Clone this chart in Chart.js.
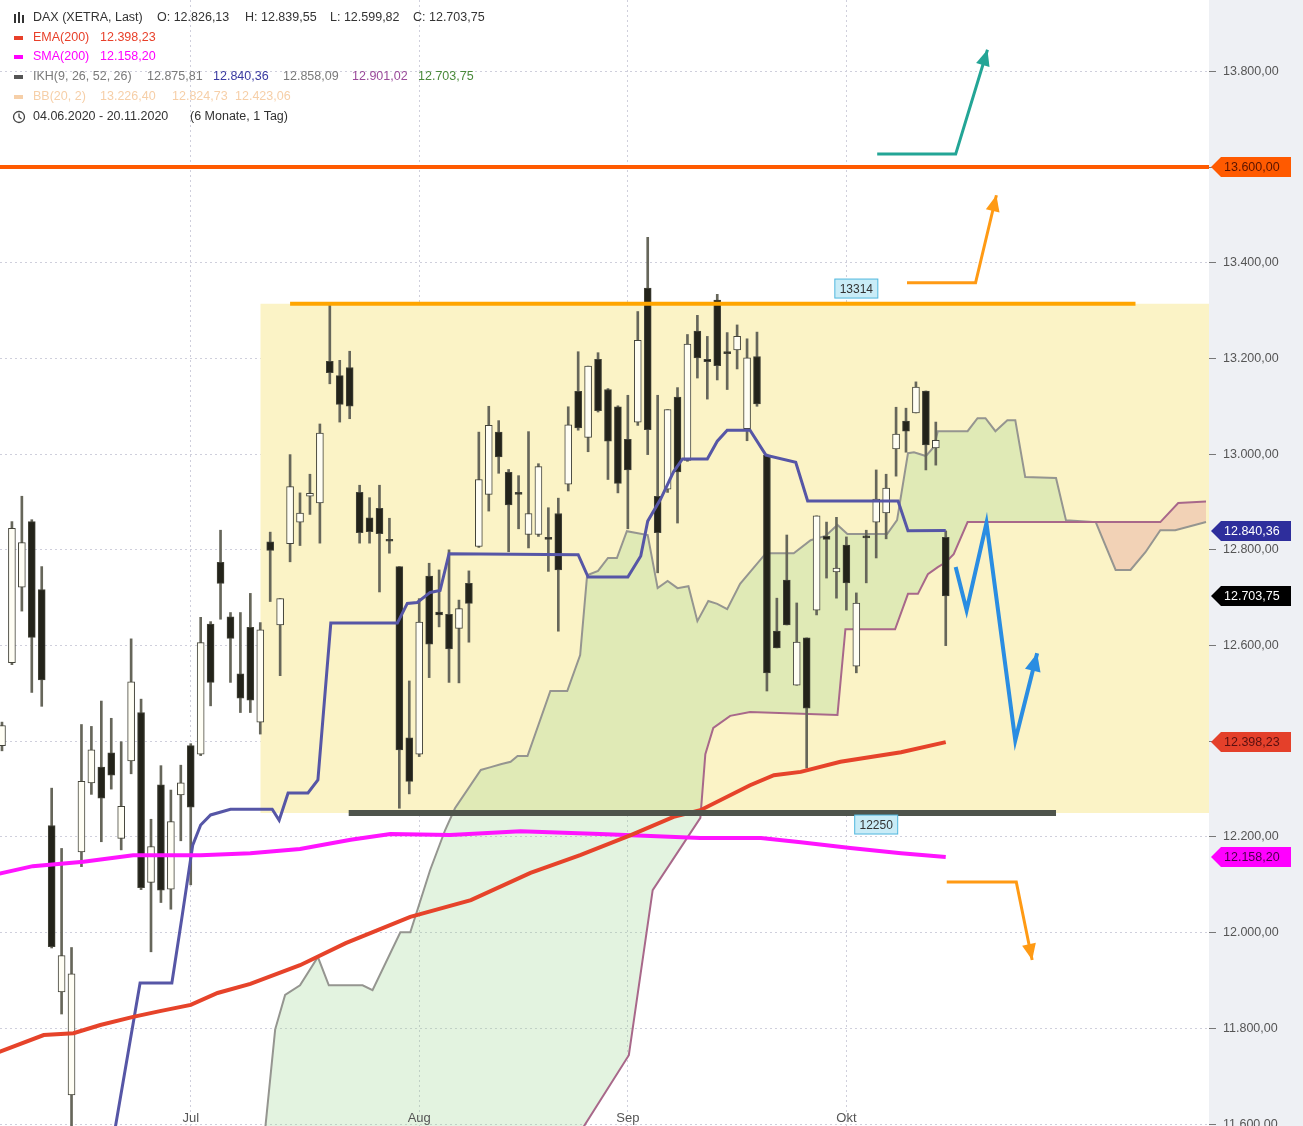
<!DOCTYPE html>
<html>
<head>
<meta charset="utf-8">
<script src="https://cdn.jsdelivr.net/npm/chart.js@4.4.1/dist/chart.umd.min.js"></script>
<style>
  html, body { margin: 0; padding: 0; background: #fff; }
  #wrap { width: 1303px; height: 1126px; }
</style>
</head>
<body>
<div id="wrap"><canvas id="myChart" width="1303" height="1126"></canvas></div>
<script>
// candles, bar index -1 .. 94 (daily, XETRA)
const firstBar = -1
const opens  = [12391,12564,12722,12859,12717,12224,11876,11661,12169,12313,12346,12376,12197,12359,12460,12105,12309,12091,12288,12391,
  12373,12645,12774,12660,12541,12638,12440,12817,12643,12813,12858,12912,12898,13194,13164,13181,12920,12867,12887,12822,
  12765,12407,12373,12745,12670,12665,12636,12730,12807,12916,13046,12962,12920,12832,12832,12826,12876,12937,13131,13035,
  13198,13135,13099,13031,13067,13347,12912,12927,13119,12987,13257,13198,13322,13214,13218,13053,13204,12998,12630,12737,
  12517,12616,12674,12828,12754,12810,12557,12829,12858,12877,13011,13069,13086,13132,13013,12826.13]
const highs  = [12440,12859,12912,12863,12765,12302,12176,11969,12435,12431,12484,12448,12399,12614,12488,12237,12349,12298,12350,12395,
  12659,12650,12841,12669,12669,12709,12648,12837,12698,12999,12919,12958,13063,13312,13196,13215,12935,12909,12935,12866,
  12765,12526,12698,12772,12758,12800,12695,12756,13046,13100,13070,12968,12955,13047,12980,12888,12908,13099,13214,13184,
  13212,13137,13101,13123,13298,13453,13123,13093,13139,13250,13290,13246,13334,13254,13270,13241,13255,13000,12699,12831,
  12689,12616,12871,12858,12868,12827,12710,12841,12967,12958,13098,13096,13151,13132,13067,12839.55]
const lows   = [12380,12560,12672,12502,12473,11968,11830,11540,12138,12289,12190,12300,12173,12332,12090,11960,12063,12049,12192,12100,
  12370,12474,12655,12523,12460,12460,12415,12692,12537,12775,12809,12874,12814,13147,13067,13074,12814,12814,12712,12793,
  12260,12290,12368,12533,12639,12523,12522,12607,12805,12881,12960,12796,12844,12804,12828,12755,12630,12923,13050,13005,
  13088,12947,12919,12844,13060,12999,12752,12920,12856,12985,13159,13115,13155,13135,13178,13028,13100,12505,12595,12643,
  12517,12344,12664,12741,12699,12674,12543,12731,12783,12823,12954,13004,13086,12967,12977,12599.82]
const closes = [12433,12845,12815,12617,12528,11971,11952,11914,12316,12382,12281,12329,12264,12524,12094,12180,12089,12232,12313,12262,
  12606,12523,12730,12615,12490,12486,12633,12799,12698,12932,12877,12918,13044,13170,13104,13100,12836,12838,12834,12818,
  12382,12316,12649,12603,12664,12593,12677,12688,12947,13060,12994,12894,12916,12876,12974,12822,12758,13061,13055,13184,
  13091,13027,12939,12967,13238,13051,12836,13093,12963,13230,13201,13193,13185,13210,13246,13201,13105,12543,12595,12643,
  12607,12469,12871,12822,12762,12731,12689,12825,12906,12929,13042,13048,13140,13019,13029,12703.75]

// Ichimoku (IKH 9,26,52,26) vertices: bar index / value
const kijunX = [10.1,12.9,16.1,17.1,18.2,19.0,20.0,22.0,26.2,26.9,27.8,29.8,30.8,32.1,38.8,39.8,40.8,42.1,43.1,44.0,57.0,58.0,62.0,63.3,
  64.0,65.3,66.6,67.5,70.0,71.0,72.0,74.3,75.9,78.9,80.1,89.2,90.2,94]
const kijunY = [11556,11895,11895,12030,12183,12225,12246,12258,12258,12235,12292,12292,12319,12647,12647,12688,12690,12711,12715,12792,12790,12743,12743,12787,
  12860,12906,12963,12990,12990,13027,13050,13050,12998,12983,12902,12902,12840,12840.36]
const spanAX = [25.3,26.5,27.5,29.0,30.8,31.9,35.3,36.3,39.1,40.1,42.1,43.6,44.6,47.2,48.2,49.2,50.2,50.9,51.9,54.2,55.9,57.2,57.9,59.0,
  60.0,60.9,61.9,64.0,65.0,66.0,67.0,68.1,69.0,70.1,71.0,72.0,73.3,75.9,78.7,80.4,81.9,83.1,84.1,88.1,89.1,90.2,90.8,92.0,92.8,93.2,
  96.2,97.2,98.0,99.0,100.2,101.0,102.0,105.1,106.1,109.1,111.1,112.6,114.1,115.6,117.1,120.2]
const spanAY = [11550,11798,11870,11890,11949,11890,11890,11880,12001,12001,12131,12214,12260,12340,12346,12352,12357,12369,12369,12505,12505,12580,12747,12756,
  12783,12783,12839,12831,12720,12735,12720,12724,12651,12693,12687,12676,12729,12793,12793,12820,12829,12852,12833,12833,12862,13002,13004,12996,13015,13048,
  13048,13075,13075,13048,13071,13071,12952,12950,12862,12858,12758,12758,12795,12841,12841,12858.09]
const spanBX = [25.0,56.5,62.1,64.5,69.3,69.8,70.6,72.3,74.3,83.1,83.9,88.9,90.2,91.2,92.2,93.2,94.0,94.8,96.2,115.6,117.4,120.2]
const spanBY = [11300,11560,11744,12089,12240,12373,12428,12453,12461,12455,12634,12634,12708,12708,12749,12764,12774,12791,12858,12858,12898,12901.02]

// moving averages
const emaX = [-2,3.2,6.2,8.9,12.2,14.9,18.0,20.7,24.0,29.0,33.6,40.1,46.2,52.2,57.2,62.3,66.6,69.3,74.3,76.7,79.4,83.4,89.5,94]
const emaY = [11745,11786,11790,11807,11824,11836,11849,11874,11893,11932,11978,12033,12068,12125,12162,12204,12242,12256,12308,12329,12336,12357,12377,12398.23]
const smaX = [-2,2.1,7.2,12.2,19.0,24.0,29.0,34.1,38.1,44.1,51.2,59.2,64.3,69.3,75.4,79.4,84.4,89.5,94]
const smaY = [12120,12139,12148,12162,12162,12166,12175,12194,12206,12204,12212,12206,12202,12198,12198,12189,12177,12166,12158.20]

// range box, support / resistance
const rangeTop = 13314
const rangeBottom = 12250
const rangeFrom = 25
const topLineX = [28.0, 113.1]
const bottomLineX = [33.9, 105.1]
const targetLevel = 13600
const rangeLabelX = [85.0, 87.0]
const rangeLabelY = [13346, 12226]

// scenario arrows
const tealX = [87.1, 95.0, 98.2], tealY = [13627, 13627, 13845]
const upX = [90.1, 97.0, 99.1], upY = [13358, 13358, 13541]
const downX = [94.1, 101.1, 102.7], downY = [12106, 12106, 11943]
const zigX = [95.0, 96.1, 98.1, 101.0, 103.2], zigY = [12764, 12674, 12856, 12402, 12584]

// axes
const yTicks = [11600,11800,12000,12200,12400,12600,12800,13000,13200,13400,13600,13800]
const monthNames = ['Jul', 'Aug', 'Sep', 'Okt']
const monthBars = [18, 41, 62, 84]
const tagValues = [13600, 12840.36, 12703.75, 12398.23, 12158.20]
const tagFill = ['#ff5a00', '#2e2e9c', '#000000', '#e4402a', '#ff00ff']
const tagInk = ['#5a1500', '#ffffff', '#ffffff', '#5a1010', '#4a004a']

const pts = (xs, ys) => xs.map((x, k) => ({x: x, y: ys[k]}))

function fmt(v) {
  const s = v.toFixed(2).split('.')
  return s[0].replace(/\B(?=(\d{3})+(?!\d))/g, '.') + ',' + s[1]
}

const bodies = opens.map((o, k) => ({x: k + firstBar, y: [Math.min(o, closes[k]), Math.max(o, closes[k])]}))
const wicks = opens.map((o, k) => ({x: k + firstBar, y: [lows[k], highs[k]]}))
const bodyColors = opens.map((o, k) => closes[k] >= o ? '#fffef4' : '#23231a')

const FONT = "'Liberation Sans', Arial, sans-serif"

function arrowHead(ctx, p1, p2, color, len, half) {
  const a = Math.atan2(p2.y - p1.y, p2.x - p1.x)
  ctx.save()
  ctx.fillStyle = color
  ctx.beginPath()
  ctx.moveTo(p2.x, p2.y)
  ctx.lineTo(p2.x - len * Math.cos(a) + half * Math.sin(a), p2.y - len * Math.sin(a) - half * Math.cos(a))
  ctx.lineTo(p2.x - len * Math.cos(a) - half * Math.sin(a), p2.y - len * Math.sin(a) + half * Math.cos(a))
  ctx.closePath()
  ctx.fill()
  ctx.restore()
}

const overlay = {
  id: 'overlay',
  beforeDraw(chart) {
    const {ctx, chartArea} = chart
    ctx.save()
    ctx.fillStyle = '#ffffff'
    ctx.fillRect(0, 0, chart.width, chart.height)
    ctx.fillStyle = '#eef0f4'
    ctx.fillRect(chartArea.right, 0, chart.width - chartArea.right, chart.height)
    ctx.restore()
  },
  afterDraw(chart) {
    const {ctx, chartArea} = chart
    const xs = chart.scales.x, ys = chart.scales.y
    ctx.save()

    // arrow heads
    chart.data.datasets.forEach((ds, i) => {
      if (!ds.arrow) return
      const m = chart.getDatasetMeta(i).data
      arrowHead(ctx, m[m.length - 2], m[m.length - 1], ds.borderColor, ds.arrow[0], ds.arrow[1])
    })

    // month labels
    ctx.font = '13px ' + FONT
    ctx.fillStyle = '#555'
    ctx.textAlign = 'center'
    ctx.textBaseline = 'middle'
    monthNames.forEach((n, k) => ctx.fillText(n, xs.getPixelForValue(monthBars[k]), 1118))

    // range labels
    ctx.font = '12px ' + FONT
    rangeLabelX.forEach((bx, k) => {
      const cx = xs.getPixelForValue(bx), cy = ys.getPixelForValue(rangeLabelY[k])
      ctx.fillStyle = '#c9ecf7'
      ctx.fillRect(cx - 21.5, cy - 9.5, 43, 19)
      ctx.strokeStyle = '#4fb7de'
      ctx.lineWidth = 1
      ctx.strokeRect(cx - 21.5, cy - 9.5, 43, 19)
      ctx.fillStyle = '#333'
      ctx.fillText(String(k === 0 ? rangeTop : rangeBottom), cx, cy + 1)
    })

    // price tags on the axis
    ctx.textAlign = 'left'
    ctx.font = '12.5px ' + FONT
    tagValues.forEach((v, k) => {
      const y = Math.round(ys.getPixelForValue(v))
      const x0 = chartArea.right + 2
      ctx.fillStyle = tagFill[k]
      ctx.beginPath()
      ctx.moveTo(x0, y)
      ctx.lineTo(x0 + 10, y - 10)
      ctx.lineTo(chart.width - 12, y - 10)
      ctx.lineTo(chart.width - 12, y + 10)
      ctx.lineTo(x0 + 10, y + 10)
      ctx.closePath()
      ctx.fill()
      ctx.fillStyle = tagInk[k]
      ctx.fillText(fmt(v), x0 + 13, y + 1)
    })

    // legend block
    const line = (y, parts) => {
      parts.forEach(p => {
        ctx.fillStyle = p[2]
        ctx.fillText(p[0], p[1], y)
      })
    }
    const dash = (y, c) => { ctx.fillStyle = c; ctx.fillRect(14, y - 2, 9, 4) }
    ctx.font = '12.5px ' + FONT
    ctx.textBaseline = 'middle'
    // candle icon
    ctx.fillStyle = '#333'
    ctx.fillRect(14, 14, 2, 9); ctx.fillRect(18, 12, 2, 11); ctx.fillRect(22, 15, 2, 8)
    line(18, [['DAX (XETRA, Last)', 33, '#333'], ['O: 12.826,13', 157, '#333'], ['H: 12.839,55', 245, '#333'],
      ['L: 12.599,82', 330, '#333'], ['C: 12.703,75', 413, '#333']])
    dash(38, '#e8402a')
    line(38, [['EMA(200)', 33, '#e8402a'], ['12.398,23', 100, '#e8402a']])
    dash(57, '#ff00ff')
    line(57, [['SMA(200)', 33, '#ff00ff'], ['12.158,20', 100, '#ff00ff']])
    dash(77, '#555')
    line(77, [['IKH(9, 26, 52, 26)', 33, '#7a7a7a'], ['12.875,81', 147, '#7a7a7a'], ['12.840,36', 213, '#3a3aa0'],
      ['12.858,09', 283, '#7a7a7a'], ['12.901,02', 352, '#9a4a9a'], ['12.703,75', 418, '#4a8a3a']])
    dash(97, '#f6cfa8')
    line(97, [['BB(20, 2)', 33, '#f6cfa8'], ['13.226,40', 100, '#f6cfa8'], ['12.824,73', 172, '#f6cfa8'], ['12.423,06', 235, '#f6cfa8']])
    ctx.strokeStyle = '#444'; ctx.lineWidth = 1.3
    ctx.beginPath(); ctx.arc(19, 117, 5.5, 0, Math.PI * 2); ctx.stroke()
    ctx.beginPath(); ctx.moveTo(19, 113.5); ctx.lineTo(19, 117); ctx.lineTo(21.5, 119); ctx.stroke()
    line(117, [['04.06.2020 - 20.11.2020', 33, '#333'], ['(6 Monate, 1 Tag)', 190, '#333']])
    ctx.restore()
  }
}

const lineDs = (data, color, width, order, extra) => Object.assign({
  type: 'line', data: data, borderColor: color, borderWidth: width, pointRadius: 0,
  fill: false, tension: 0, order: order, clip: 0
}, extra || {})

new Chart(document.getElementById('myChart'), {
  data: {
    datasets: [
      lineDs(pts([rangeFrom, 121], [rangeTop, rangeTop]), 'rgba(0,0,0,0)', 0, 30,
        {fill: {value: rangeBottom}, backgroundColor: '#fbf3c6'}),
      lineDs(pts(spanAX, spanAY), '#959590', 2, 25,
        {fill: {target: 2, above: 'rgba(150,210,140,0.27)', below: 'rgba(225,140,150,0.32)'}}),
      lineDs(pts(spanBX, spanBY), '#a8688a', 2, 24),
      {type: 'bar', data: wicks, backgroundColor: '#66665a', barThickness: 2, grouped: false, order: 12, minBarLength: 1},
      {type: 'bar', data: bodies, backgroundColor: bodyColors, borderColor: '#44443a', borderWidth: 1,
        borderSkipped: false, barThickness: 7, grouped: false, order: 11, minBarLength: 2},
      lineDs(pts(kijunX, kijunY), '#5656a6', 3, 8),
      lineDs(pts(emaX, emaY), '#e6432a', 4, 7),
      lineDs(pts(smaX, smaY), '#ff14ff', 4, 7),
      lineDs(pts([-2, 121], [targetLevel, targetLevel]), '#ff5a00', 4, 5),
      lineDs(pts(topLineX, [rangeTop, rangeTop]), '#ffa500', 4, 5),
      lineDs(pts(bottomLineX, [rangeBottom, rangeBottom]), '#4e544c', 6, 5),
      lineDs(pts(tealX, tealY), '#23a596', 3, 3, {arrow: [16, 7]}),
      lineDs(pts(upX, upY), '#ff9a14', 3, 3, {arrow: [16, 7]}),
      lineDs(pts(downX, downY), '#ff9a14', 3, 3, {arrow: [16, 7]}),
      lineDs(pts(zigX, zigY), '#2a8de2', 4, 3, {arrow: [18, 8]})
    ]
  },
  options: {
    responsive: false,
    animation: false,
    events: [],
    layout: {padding: 0},
    plugins: {legend: {display: false}, tooltip: {enabled: false}},
    scales: {
      x: {
        type: 'linear', min: -1.2, max: 120.5, offset: false, bounds: 'ticks',
        afterBuildTicks: s => { s.ticks = monthBars.map(v => ({value: v})) },
        afterDataLimits: s => { s.min = -1.2; s.max = 120.5 },
        afterFit: s => { s.height = 0 },
        grid: {color: '#cfcfdc', drawTicks: false, offset: false},
        border: {display: false, dash: [2, 3]},
        ticks: {display: false}
      },
      y: {
        type: 'linear', position: 'right', min: 11596, max: 13949,
        afterBuildTicks: s => { s.ticks = yTicks.map(v => ({value: v})) },
        afterFit: s => { s.width = 94; s.paddingTop = 0; s.paddingBottom = 0 },
        grid: {color: '#cfcfdc', tickColor: '#777', tickLength: 7, drawTicks: true},
        border: {display: false, dash: [2, 3]},
        ticks: {color: '#555', padding: 7, font: {size: 12.5, family: FONT}, callback: v => fmt(v)}
      }
    }
  },
  plugins: [overlay]
})
</script>
</body>
</html>
